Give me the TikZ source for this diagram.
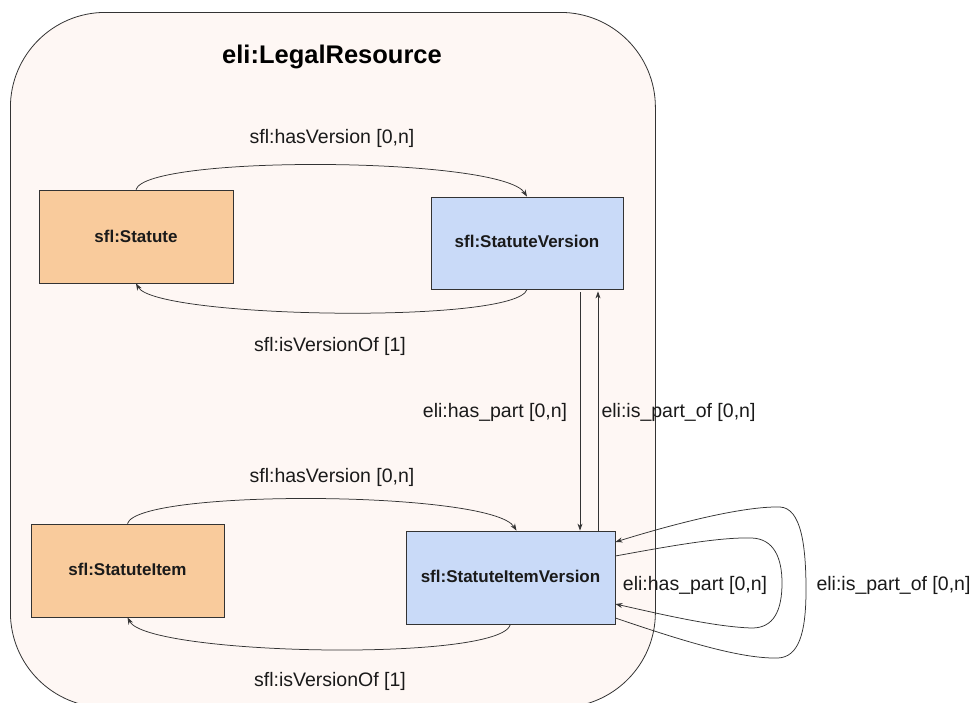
\documentclass[tikz,border=0pt]{standalone}
\usepackage{fontspec}
\setmainfont{Liberation Sans}
\usetikzlibrary{arrows.meta,calc}
\definecolor{framefill}{HTML}{FEF7F4}
\definecolor{workfill}{HTML}{F9CB9C}
\definecolor{versionfill}{HTML}{C9DAF8}
\definecolor{linegray}{HTML}{333333}
\definecolor{textgray}{HTML}{1A1A1A}
\begin{document}
\begin{tikzpicture}[x=1pt,y=-1pt,
  cls/.style={draw=linegray, line width=0.8pt, inner sep=0pt,
    font=\bfseries\fontsize{17}{20}\selectfont, text=textgray},
  rel/.style={draw=linegray, line width=0.75pt,
    -{Stealth[length=7pt,width=5pt]}},
  lbl/.style={font=\fontsize{19.5}{23}\selectfont, text=textgray, inner sep=0pt}]
\clip (0,0) rectangle (976,702);
\fill[white] (0,0) rectangle (976,702);

% enclosing class
\node[draw=linegray, line width=0.8pt, fill=framefill, rounded corners=95pt,
  minimum width=645pt, minimum height=695pt, anchor=north west, inner sep=0pt]
  (frame) at (10,12) {};
\node[font=\bfseries\fontsize{25.5}{30}\selectfont, text=black] (title) at (332,57) {eli:LegalResource};

% classes
\node[cls, fill=workfill, minimum width=194pt, minimum height=93pt] (st) at (136,236.5) {sfl:Statute};
\node[cls, fill=versionfill, minimum width=192pt, minimum height=92pt] (sv) at (527,243) {\raisebox{3pt}{sfl:StatuteVersion}};
\node[cls, fill=workfill, minimum width=193pt, minimum height=93pt] (si) at (127.5,570.5) {\raisebox{2pt}{sfl:StatuteItem}};
\node[cls, fill=versionfill, minimum width=209pt, minimum height=93pt] (siv) at (510.5,577.5) {\raisebox{3pt}{sfl:StatuteItemVersion}};

% version relations, upper pair
\draw[rel] (st.north) .. controls +(10,-35) and +(-25,-40) .. (sv.north);
\draw[rel] (sv.south) .. controls +(-10,35) and +(20,35) .. (st.south);
\node[lbl] (l1) at (332,138) {sfl:hasVersion [0,n]};
\node[lbl] (l2) at (330,346) {sfl:isVersionOf [1]};

% version relations, lower pair
\draw[rel] (si.north) .. controls +(10,-35) and +(-25,-40) .. ([xshift=6pt]siv.north);
\draw[rel] (siv.south) .. controls +(-10,38) and +(20,38) .. (si.south);
\node[lbl] (l3) at (332,477) {sfl:hasVersion [0,n]};
\node[lbl] (l4) at (330,681) {sfl:isVersionOf [1]};

% part relations between the two version classes
\draw[rel] ([xshift=53pt,yshift=-3pt]sv.south) -- ([xshift=53pt]sv.south |- siv.north);
\draw[rel] ([xshift=71pt]sv.south |- siv.north) -- ([xshift=71pt,yshift=-2pt]sv.south);
\node[lbl] (l5) at (495,412) {eli:has\_part [0,n]};
\node[lbl] (l6) at (678.5,412) {eli:is\_part\_of [0,n]};

% self relations of sfl:StatuteItemVersion
\draw[rel] ([yshift=21.5pt]siv.east)
  .. controls (670,546) and (720,537) .. (752,538)
  .. controls (774,539) and (782,558) .. (782,583)
  .. controls (782,610) and (774,628) .. (752,628)
  .. controls (715,627) and (660,614) .. ([yshift=-26.5pt]siv.east);
\draw[rel] ([yshift=-40.5pt]siv.east)
  .. controls (680,640) and (740,659) .. (778,658)
  .. controls (798,657) and (806,635) .. (806,590)
  .. controls (806,545) and (801,508) .. (780,507)
  .. controls (742,506) and (670,525) .. ([yshift=35.5pt]siv.east);
\node[lbl] (l7) at (695,585) {eli:has\_part [0,n]};
\node[lbl] (l8) at (893.5,585) {eli:is\_part\_of [0,n]};
\end{tikzpicture}
\end{document}
